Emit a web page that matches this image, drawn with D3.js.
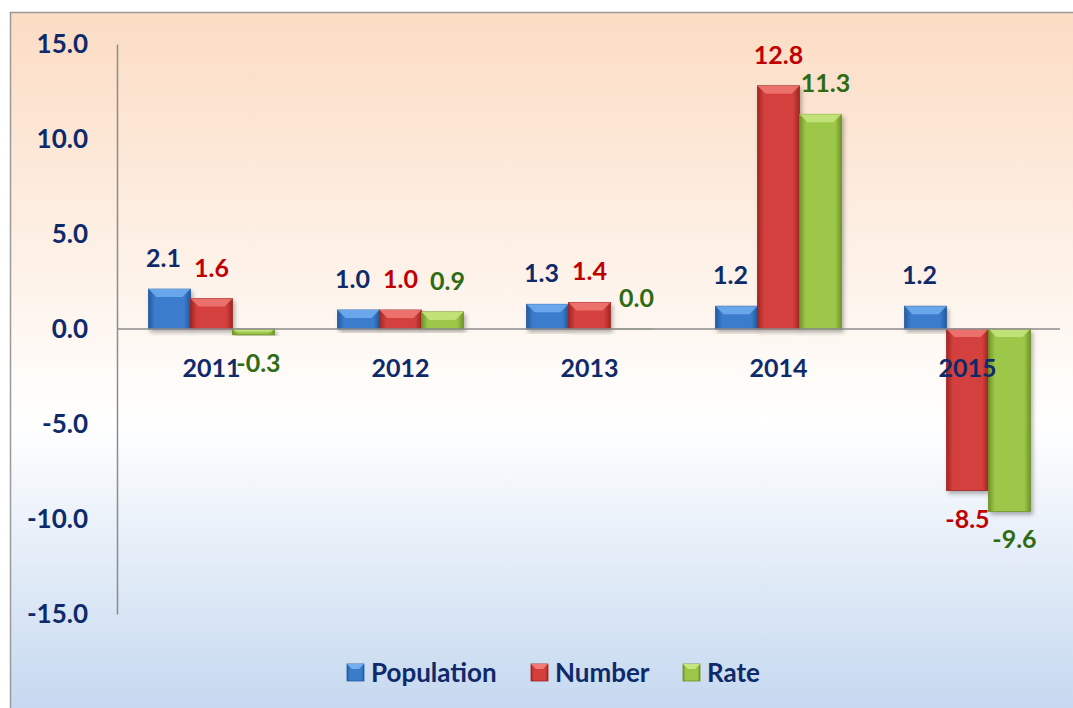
<!DOCTYPE html>
<html>
<head>
<meta charset="utf-8">
<script src="https://cdn.jsdelivr.net/npm/d3@7"></script>
<style>
  body { margin: 0; background: #ffffff; }
  text { font-family: Lato, "Open Sans", sans-serif; font-weight: bold; }
</style>
</head>
<body>
<script>
var w = 1073;
var h = 708;

// ---- data ----
var years = ["2011", "2012", "2013", "2014", "2015"];
var population = [2.1, 1.0, 1.3, 1.2, 1.2];
var number = [1.6, 1.0, 1.4, 12.8, -8.5];
var rate = [-0.3, 0.9, 0.0, 11.3, -9.6];
var seriesNames = ["Population", "Number", "Rate"];
var yTicks = [15, 10, 5, 0, -5, -10, -15];

var seriesColors = [
  { base: "#3a7bcc", light: "#72aef0", dark: "#245a9e", label: "#0f2a6b" },
  { base: "#d43f3c", light: "#f07a76", dark: "#9e2523", label: "#c00000" },
  { base: "#9cc749", light: "#c8e67f", dark: "#6f9327", label: "#2f6b12" }
];

var fmt = function (v) { return d3.format(".1f")(v).replace("\u2212", "-"); };

var svg = d3.select("body").append("svg")
  .attr("width", w)
  .attr("height", h);

var defs = svg.append("defs");

// background gradient
var bg = defs.append("linearGradient")
  .attr("id", "bgGrad")
  .attr("x1", 0).attr("y1", 0).attr("x2", 0).attr("y2", 1);
bg.append("stop").attr("offset", "0%").attr("stop-color", "#fbdcc3");
bg.append("stop").attr("offset", "58%").attr("stop-color", "#ffffff");
bg.append("stop").attr("offset", "100%").attr("stop-color", "#c3d7ef");

// bar gradients
seriesColors.forEach(function (c, i) {
  var g = defs.append("linearGradient")
    .attr("id", "barGrad" + i)
    .attr("x1", 0).attr("y1", 0).attr("x2", 1).attr("y2", 0);
  g.append("stop").attr("offset", "0%").attr("stop-color", c.dark);
  g.append("stop").attr("offset", "15%").attr("stop-color", c.base);
  g.append("stop").attr("offset", "85%").attr("stop-color", c.base);
  g.append("stop").attr("offset", "100%").attr("stop-color", c.dark);
});

var shadow = defs.append("filter")
  .attr("id", "shadow")
  .attr("x", "-20%").attr("y", "-20%").attr("width", "140%").attr("height", "140%");
shadow.append("feDropShadow")
  .attr("dx", 2).attr("dy", 3).attr("stdDeviation", 2)
  .attr("flood-color", "#000").attr("flood-opacity", 0.3);

// background
svg.append("rect")
  .attr("x", 10.5)
  .attr("y", 12.5)
  .attr("width", w)
  .attr("height", h)
  .attr("fill", "url(#bgGrad)")
  .attr("stroke", "#9a9a9a")
  .attr("stroke-width", 1.5);

// ---- scales ----
var x0 = d3.scaleBand()
  .domain(years)
  .range([117, 1062])
  .paddingInner(1 / 3)
  .paddingOuter(1 / 6);

var x1 = d3.scaleBand()
  .domain(seriesNames)
  .range([0, x0.bandwidth()]);

var y = d3.scaleLinear()
  .domain([-15, 15])
  .range([614, 44]);

// y axis
var yAxis = d3.axisLeft(y)
  .tickValues(yTicks)
  .tickSize(0)
  .tickPadding(29)
  .tickFormat(fmt);

var gy = svg.append("g")
  .attr("transform", "translate(117,0)")
  .call(yAxis);
gy.select(".domain").attr("stroke", "#8c8c8c").attr("stroke-width", 1.5);
gy.selectAll("text")
  .attr("fill", "#0f2a6b")
  .attr("font-size", 26)
  .attr("font-family", "Lato, 'Open Sans', sans-serif")
  .attr("font-weight", "bold");

// ---- bars ----
var allSeries = [population, number, rate];
var rows = [];
allSeries.forEach(function (vals, si) {
  vals.forEach(function (v, i) {
    rows.push({ s: si, year: years[i], value: v });
  });
});

var bars = svg.append("g").selectAll("g")
  .data(rows)
  .enter().append("g")
  .attr("transform", function (d) {
    return "translate(" + (x0(d.year) + x1(seriesNames[d.s])) + ",0)";
  });

var bw = x1.bandwidth();

bars.append("rect")
  .attr("x", 0)
  .attr("y", function (d) { return Math.min(y(d.value), y(0)); })
  .attr("width", bw)
  .attr("height", function (d) { return Math.max(Math.abs(y(d.value) - y(0)), 0.01); })
  .attr("fill", function (d) { return "url(#barGrad" + d.s + ")"; })
  .attr("stroke", function (d) { return seriesColors[d.s].dark; })
  .attr("stroke-width", 0.8)
  .attr("filter", "url(#shadow)");

// bevel highlight (top edge)
bars.filter(function (d) { return Math.abs(y(d.value) - y(0)) > 3; })
  .append("path")
  .attr("d", function (d) {
    var top = Math.min(y(d.value), y(0));
    var bev = Math.min(8, Math.abs(y(d.value) - y(0)) / 2);
    return "M0," + top + "L" + bw + "," + top + "L" + (bw - bev) + "," + (top + bev) +
      "L" + bev + "," + (top + bev) + "Z";
  })
  .attr("fill", function (d) { return seriesColors[d.s].light; })
  .attr("opacity", 0.85);

// zero line
svg.append("line")
  .attr("x1", 117)
  .attr("x2", 1060)
  .attr("y1", y(0))
  .attr("y2", y(0))
  .attr("stroke", "#8c8c8c")
  .attr("stroke-width", 1.5);

// category labels
svg.append("g").selectAll("text")
  .data(years)
  .enter().append("text")
  .text(function (d) { return d; })
  .attr("x", function (d) { return x0(d) + x0.bandwidth() / 2; })
  .attr("y", y(0) + 48)
  .attr("text-anchor", "middle")
  .attr("font-size", 25)
  .attr("fill", "#0f2a6b");

// value labels
svg.append("g").selectAll("text")
  .data(rows)
  .enter().append("text")
  .text(function (d) { return fmt(d.value); })
  .attr("x", function (d) { return x0(d.year) + x1(seriesNames[d.s]) + bw / 2 + (d.s === 2 ? 5 : d.s === 0 ? -6 : 0); })
  .attr("y", function (d) { return d.value >= 0 ? y(d.value) - 22 : y(d.value) + 37; })
  .attr("text-anchor", "middle")
  .attr("font-size", 25)
  .attr("fill", function (d) { return seriesColors[d.s].label; });

// ---- legend ----
var legendX = [347, 531, 683];
var legend = svg.append("g").selectAll("g")
  .data(seriesNames)
  .enter().append("g")
  .attr("transform", function (d, i) { return "translate(" + legendX[i] + ",664)"; });

legend.append("rect")
  .attr("width", 17)
  .attr("height", 17)
  .attr("fill", function (d, i) { return "url(#barGrad" + i + ")"; })
  .attr("stroke", function (d, i) { return seriesColors[i].dark; })
  .attr("stroke-width", 0.8);
legend.append("path")
  .attr("d", "M0,0L17,0L12,5L5,5Z")
  .attr("fill", function (d, i) { return seriesColors[i].light; });

legend.append("text")
  .text(function (d) { return d; })
  .attr("x", 24)
  .attr("y", 18)
  .attr("font-size", 26)
  .attr("fill", "#0f2a6b");
</script>
</body>
</html>
